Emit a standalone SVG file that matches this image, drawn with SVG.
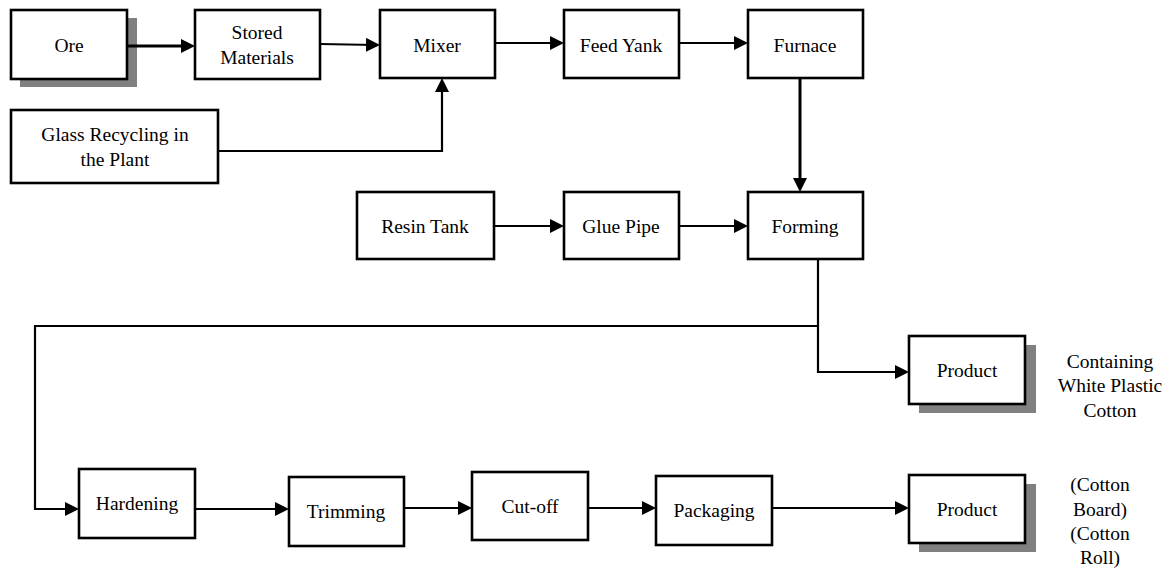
<svg xmlns="http://www.w3.org/2000/svg" width="1170" height="568" viewBox="0 0 1170 568">
  <style>
    .box { fill: #ffffff; stroke: #000000; stroke-width: 2.6; }
    .shadow { fill: #808080; stroke: none; }
    .lbl { font-family: 'Liberation Serif', 'DejaVu Serif', serif; font-size: 19.5px; fill: #000000; text-anchor: middle; }
    .wire { fill: none; stroke: #000000; stroke-width: 2.2; }
    .wire.heavy { stroke-width: 3; }
  </style>
  <defs>
    <marker id="arrow" markerUnits="userSpaceOnUse" markerWidth="16" markerHeight="16" refX="10" refY="7" orient="auto">
      <path d="M0,0 L14,7 L0,14 z" fill="#000000"/>
    </marker>
  </defs>

  <rect width="1170" height="568" fill="#ffffff"/>

  <!-- process steps -->
  <g font-family="Liberation Serif, serif">
  <g id="ore">
    <rect class="shadow" x="20" y="18" width="117" height="69"/>
    <rect class="box" x="11" y="10" width="116" height="69"/>
    <text class="lbl" x="69" y="52">Ore</text>
  </g>
  <g id="stored-materials">
    <rect class="box" x="195" y="10" width="125" height="69"/>
    <text class="lbl" x="257" y="39">Stored</text>
    <text class="lbl" x="257" y="64">Materials</text>
  </g>
  <g id="mixer">
    <rect class="box" x="380" y="10" width="115" height="68"/>
    <text class="lbl" x="437" y="52">Mixer</text>
  </g>
  <g id="feed-yank">
    <rect class="box" x="564" y="10" width="115" height="68"/>
    <text class="lbl" x="621" y="52">Feed Yank</text>
  </g>
  <g id="furnace">
    <rect class="box" x="748" y="10" width="115" height="68"/>
    <text class="lbl" x="805" y="52">Furnace</text>
  </g>
  <g id="glass-recycling">
    <rect class="box" x="11" y="110" width="207" height="73"/>
    <text class="lbl" x="115" y="141">Glass Recycling in</text>
    <text class="lbl" x="115" y="166">the Plant</text>
  </g>
  <g id="resin-tank">
    <rect class="box" x="357" y="192" width="137" height="67"/>
    <text class="lbl" x="425" y="233">Resin Tank</text>
  </g>
  <g id="glue-pipe">
    <rect class="box" x="564" y="192" width="115" height="67"/>
    <text class="lbl" x="621" y="233">Glue Pipe</text>
  </g>
  <g id="forming">
    <rect class="box" x="748" y="192" width="115" height="67"/>
    <text class="lbl" x="805" y="233">Forming</text>
  </g>
  <g id="product-white-cotton">
    <rect class="shadow" x="919" y="345" width="117" height="68"/>
    <rect class="box" x="909" y="336" width="116" height="68"/>
    <text class="lbl" x="967" y="377">Product</text>
    <text class="lbl" x="1110" y="368">Containing</text>
    <text class="lbl" x="1110" y="392">White Plastic</text>
    <text class="lbl" x="1110" y="417">Cotton</text>
  </g>
  <g id="hardening">
    <rect class="box" x="79" y="469" width="116" height="69"/>
    <text class="lbl" x="137" y="510">Hardening</text>
  </g>
  <g id="trimming">
    <rect class="box" x="289" y="477" width="115" height="69"/>
    <text class="lbl" x="346" y="518">Trimming</text>
  </g>
  <g id="cut-off">
    <rect class="box" x="472" y="472" width="116" height="68"/>
    <text class="lbl" x="530" y="513">Cut-off</text>
  </g>
  <g id="packaging">
    <rect class="box" x="656" y="476" width="116" height="69"/>
    <text class="lbl" x="714" y="517">Packaging</text>
  </g>
  <g id="product-board-roll">
    <rect class="shadow" x="919" y="484" width="117" height="68"/>
    <rect class="box" x="909" y="475" width="116" height="68"/>
    <text class="lbl" x="967" y="516">Product</text>
    <text class="lbl" x="1100" y="491">(Cotton</text>
    <text class="lbl" x="1100" y="516">Board)</text>
    <text class="lbl" x="1100" y="540">(Cotton</text>
    <text class="lbl" x="1100" y="564">Roll)</text>
  </g>
  </g>

  <!-- flow connectors -->
  <g id="connectors">
    <path class="wire heavy" d="M127,46 L191,46" marker-end="url(#arrow)"/>
    <path class="wire" d="M320,44 L376,45" marker-end="url(#arrow)"/>
    <path class="wire" d="M218,151 L442,151 L442,82" marker-end="url(#arrow)"/>
    <path class="wire" d="M495,43 L560,43" marker-end="url(#arrow)"/>
    <path class="wire" d="M679,43 L744,43" marker-end="url(#arrow)"/>
    <path class="wire heavy" d="M800,78 L800,188" marker-end="url(#arrow)"/>
    <path class="wire" d="M494,226 L560,226" marker-end="url(#arrow)"/>
    <path class="wire" d="M679,226 L744,226" marker-end="url(#arrow)"/>
    <path class="wire" d="M818,259 L818,372 L905,372" marker-end="url(#arrow)"/>
    <path class="wire" d="M818,326 L35,326 L35,509 L75,509" marker-end="url(#arrow)"/>
    <path class="wire" d="M195,509 L285,509" marker-end="url(#arrow)"/>
    <path class="wire" d="M404,508 L468,508" marker-end="url(#arrow)"/>
    <path class="wire" d="M588,508 L652,508" marker-end="url(#arrow)"/>
    <path class="wire" d="M772,508 L905,508" marker-end="url(#arrow)"/>
  </g>
</svg>
